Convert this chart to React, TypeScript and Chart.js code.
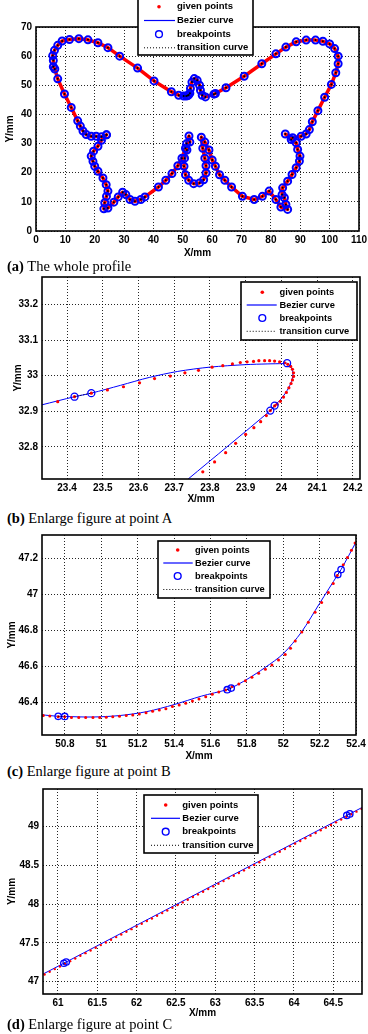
import React, { useEffect, useRef } from "react";
import { Chart, registerables } from "chart.js";
Chart.register(...registerables);

const FONT = "'Liberation Sans', Arial, Helvetica, sans-serif";
const SERIF = "'Liberation Serif', 'Times New Roman', serif";
const RED = "#ff0000";
const BLUE = "#0000ff";
const GRID = "rgba(0,0,0,0.85)";
const W = 368;

const legendLabels = ["given points", "Bezier curve", "breakpoints", "transition curve"];

// ---------- (a) whole profile ----------
const profileX = [24.0, 22.3, 20.5, 18.8, 17.1, 16.0, 15.1, 14.2, 12.0, 9.7,
  7.4, 6.4, 5.9, 5.9, 5.7, 6.3, 7.4, 8.9, 11.4, 14.6,
  17.7, 21.1, 24.5, 28.5, 34.6, 40.2, 46.1, 48.6, 50.3, 51.2,
  51.7, 52.0, 52.4, 52.6, 53.1, 53.9, 54.9, 55.7, 56.0, 56.6,
  57.7, 60.6, 61.1, 64.7, 70.9, 76.9, 81.7, 85.1, 88.6, 92.0,
  95.2, 97.7, 100.0, 101.7, 102.9, 102.9, 102.1, 100.6, 98.3, 96.0,
  94.1, 93.1, 92.0, 90.3, 87.4, 84.9, 86.9, 88.6, 89.1, 89.9,
  89.7, 88.6, 87.2, 85.7, 84.0, 83.8, 84.6, 85.1, 85.7, 83.4,
  81.7, 79.4, 77.1, 74.3, 70.3, 66.6, 64.3, 62.5, 61.1, 60.0,
  58.9, 57.5, 56.3, 56.8, 57.5, 57.9, 57.9, 57.1, 55.7, 53.7,
  52.0, 50.9, 50.4, 50.6, 51.4, 52.4, 52.1, 51.3, 50.9, 49.7,
  48.3, 46.3, 44.2, 41.7, 37.1, 35.7, 33.7, 32.0, 30.6, 29.5,
  28.0, 26.5, 24.5, 23.1, 23.4, 24.0, 24.5, 23.9, 22.8, 21.1,
  20.0, 19.4, 18.8, 19.6, 21.1, 22.3, 24.0];
const profileY = [33.0, 32.3, 32.5, 32.5, 33.1, 34.3, 36.0, 37.8, 42.4, 47.0,
  52.2, 55.6, 56.4, 58.5, 60.2, 62.0, 63.7, 65.2, 65.7, 66.0,
  65.6, 64.6, 62.9, 60.0, 55.9, 51.5, 47.8, 46.6, 46.3, 46.33,
  46.47, 46.7, 47.3, 48.9, 51.1, 52.3, 51.7, 50.0, 48.3, 46.6,
  46.0, 46.95, 47.2, 49.15, 53.1, 57.4, 60.8, 63.1, 64.9, 65.5,
  65.5, 65.1, 64.2, 62.6, 60.0, 57.4, 54.3, 50.3, 45.9, 41.3,
  37.5, 34.8, 33.3, 32.5, 32.0, 33.3, 31.4, 30.3, 28.0, 25.7,
  24.0, 21.7, 19.4, 17.1, 14.8, 12.5, 11.4, 9.1, 7.4, 8.2,
  10.8, 13.7, 11.9, 10.8, 11.9, 15.1, 17.4, 19.3, 22.2, 24.4,
  27.8, 30.5, 32.2, 28.4, 25.0, 22.4, 19.9, 17.6, 16.5, 16.25,
  17.4, 19.3, 22.2, 25.0, 27.8, 30.5, 32.6, 30.0, 28.4, 25.0,
  22.4, 19.7, 17.4, 15.1, 11.7, 10.8, 10.2, 10.8, 12.5, 13.3,
  11.7, 9.9, 7.9, 7.6, 9.7, 11.9, 13.7, 15.9, 18.2, 20.5,
  22.2, 23.9, 25.7, 27.4, 29.1, 31.1, 33.0];
const aXTicks = [0, 10, 20, 30, 40, 50, 60, 70, 80, 90, 100, 110];
const aYTicks = [0, 10, 20, 30, 40, 50, 60, 70];

// ---------- (b) point A ----------
const bGivenX = [23.374, 23.421, 23.468, 23.513, 23.558, 23.603, 23.645, 23.689, 23.730, 23.768,
  23.806, 23.836, 23.863, 23.885, 23.904, 23.922, 23.937, 23.953, 23.967, 23.981,
  23.995, 24.009, 24.018, 24.026, 24.031, 24.034, 24.034, 24.031, 24.027, 24.021,
  24.014, 24.006, 23.997, 23.988, 23.981, 23.969, 23.958, 23.942, 23.923, 23.900,
  23.872, 23.844, 23.813, 23.780];
const bGivenY = [32.927, 32.941, 32.951, 32.960, 32.969, 32.980, 32.992, 32.999, 33.008, 33.015,
  33.024, 33.028, 33.033, 33.037, 33.039, 33.040, 33.042, 33.042, 33.042, 33.041,
  33.039, 33.036, 33.032, 33.026, 33.018, 33.008, 32.998, 32.988, 32.978, 32.966,
  32.953, 32.940, 32.928, 32.920, 32.915, 32.902, 32.888, 32.871, 32.854, 32.835,
  32.810, 32.784, 32.758, 32.730];
const bCurveX = [23.329, 23.421, 23.468, 23.550, 23.630, 23.710, 23.800, 23.900, 23.960, 24.005,
  24.016, 24.028, 24.032, 24.026, 24.012, 23.995, 23.981, 23.969, 23.738];
const bCurveY = [32.918, 32.941, 32.951, 32.973, 32.995, 33.012, 33.024, 33.031, 33.033, 33.034,
  33.035, 33.022, 33.002, 32.978, 32.952, 32.930, 32.916, 32.902, 32.709];
const bBreakX = [23.421, 23.468, 24.016, 23.981, 23.969];
const bBreakY = [32.941, 32.951, 33.035, 32.916, 32.902];
const bTransX = [23.421, 23.468, null, 23.969, 23.981];
const bTransY = [32.941, 32.951, null, 32.902, 32.916];
const bXTicks = [23.4, 23.5, 23.6, 23.7, 23.8, 23.9, 24, 24.1, 24.2];
const bYTicks = [32.8, 32.9, 33, 33.1, 33.2];

// ---------- (c) point B ----------
const cGivenX = [50.681, 50.717, 50.763, 50.799, 50.836, 50.876, 50.914, 50.954, 50.991, 51.027,
  51.063, 51.100, 51.137, 51.173, 51.209, 51.246, 51.282, 51.319, 51.355, 51.391,
  51.428, 51.464, 51.501, 51.537, 51.574, 51.610, 51.646, 51.683, 51.719, 51.756,
  51.792, 51.828, 51.865, 51.902, 51.938, 51.974, 52.011, 52.040, 52.066, 52.102,
  52.138, 52.175, 52.211, 52.248, 52.275, 52.297, 52.330, 52.353, 52.375, 52.395];
const cGivenY = [46.326, 46.324, 46.320, 46.320, 46.315, 46.315, 46.315, 46.315, 46.315, 46.317,
  46.320, 46.322, 46.326, 46.329, 46.335, 46.342, 46.350, 46.357, 46.364, 46.376,
  46.385, 46.394, 46.407, 46.418, 46.431, 46.444, 46.457, 46.468, 46.487, 46.502,
  46.520, 46.539, 46.561, 46.583, 46.607, 46.635, 46.665, 46.700, 46.740, 46.790,
  46.845, 46.900, 46.955, 47.010, 47.060, 47.105, 47.165, 47.205, 47.245, 47.285];
const cCurveX = [50.674, 50.763, 50.799, 50.950, 51.100, 51.250, 51.400, 51.550, 51.692, 51.714,
  51.800, 51.900, 52.000, 52.100, 52.200, 52.300, 52.318, 52.400];
const cCurveY = [46.330, 46.322, 46.321, 46.318, 46.326, 46.348, 46.387, 46.434, 46.470, 46.479,
  46.527, 46.593, 46.670, 46.790, 46.950, 47.110, 47.138, 47.290];
const cBreakX = [50.763, 50.799, 51.692, 51.714, 52.300, 52.318];
const cBreakY = [46.322, 46.321, 46.470, 46.479, 47.110, 47.138];
const cTransX = [50.763, 50.799, null, 51.692, 51.714, null, 52.300, 52.318];
const cTransY = [46.322, 46.321, null, 46.470, 46.479, null, 47.110, 47.138];
const cXTicks = [50.8, 51, 51.2, 51.4, 51.6, 51.8, 52, 52.2, 52.4];
const cYTicks = [46.4, 46.6, 46.8, 47, 47.2];

// ---------- (d) point C ----------
const dGivenX = [60.830, 60.895, 60.960, 61.025, 61.090, 61.155, 61.220, 61.285, 61.350, 61.415,
  61.480, 61.545, 61.610, 61.675, 61.740, 61.805, 61.870, 61.935, 62.000, 62.065,
  62.130, 62.195, 62.260, 62.325, 62.390, 62.455, 62.520, 62.585, 62.650, 62.715,
  62.780, 62.845, 62.910, 62.975, 63.040, 63.105, 63.170, 63.235, 63.300, 63.365,
  63.430, 63.495, 63.560, 63.625, 63.690, 63.755, 63.820, 63.885, 63.950, 64.015,
  64.080, 64.145, 64.210, 64.275, 64.340, 64.405, 64.470, 64.535, 64.600, 64.665,
  64.730, 64.795, 64.860];
const dGivenY = [47.093, 47.127, 47.162, 47.196, 47.230, 47.265, 47.299, 47.334, 47.368, 47.403,
  47.437, 47.472, 47.506, 47.540, 47.575, 47.609, 47.644, 47.678, 47.713, 47.747,
  47.782, 47.816, 47.850, 47.885, 47.919, 47.954, 47.988, 48.023, 48.057, 48.092,
  48.126, 48.161, 48.195, 48.229, 48.264, 48.298, 48.333, 48.367, 48.402, 48.436,
  48.471, 48.505, 48.540, 48.574, 48.608, 48.643, 48.677, 48.712, 48.746, 48.781,
  48.815, 48.850, 48.884, 48.919, 48.953, 48.987, 49.022, 49.056, 49.091, 49.125,
  49.160, 49.194, 49.229];
const dCurveX = [60.810, 61.075, 61.105, 64.672, 64.710, 64.870];
const dCurveY = [47.098, 47.238, 47.254, 49.145, 49.165, 49.250];
const dBreakX = [61.075, 61.105, 64.672, 64.710];
const dBreakY = [47.238, 47.254, 49.145, 49.165];
const dTransX = [61.075, 61.105, null, 64.672, 64.710];
const dTransY = [47.238, 47.254, null, 49.145, 49.165];
const dXTicks = [61, 61.5, 62, 62.5, 63, 63.5, 64, 64.5];
const dYTicks = [47, 47.5, 48, 48.5, 49];

function pts(xs: (number | null)[], ys: (number | null)[]) {
  return xs.map((x, i) => ({ x: x === null ? NaN : x, y: ys[i] }));
}

function makeSets(given, curve, brk, trans, o) {
  return [
    {
      label: "transition curve", data: trans, order: 0, showLine: o.transLine,
      borderColor: "#000", borderWidth: 1, borderDash: [1, 2], pointRadius: o.transDot,
      pointBackgroundColor: "#000", pointBorderWidth: 0, spanGaps: false, tension: 0,
    },
    {
      label: "breakpoints", data: brk, order: 1, showLine: false,
      pointRadius: o.brkR, pointBorderWidth: o.brkW, pointBorderColor: BLUE,
      pointBackgroundColor: "rgba(0,0,0,0)",
    },
    {
      label: "given points", data: given, order: 2, showLine: o.givenLine > 0,
      borderColor: RED, borderWidth: o.givenLine, pointRadius: o.dotR,
      borderJoinStyle: "round", borderCapStyle: "round",
      pointBackgroundColor: RED, pointBorderWidth: 0, tension: 0,
    },
    {
      label: "Bezier curve", data: curve, order: 3, showLine: true,
      borderColor: BLUE, borderWidth: 1, pointRadius: 0, tension: o.tension,
      borderJoinStyle: "round",
    },
  ];
}

const panels = [
  {
    key: "a", top: 0, height: 259,
    area: { left: 36, top: 27, right: 359, bottom: 231 },
    xMin: 0, xMax: 110, yMin: 0, yMax: 70, xTicks: aXTicks, yTicks: aYTicks, yTitlePad: 4,
    datasets: makeSets(pts(profileX, profileY), pts(profileX, profileY), pts(profileX, profileY), pts(profileX, profileY),
      { transLine: false, transDot: 1, brkR: 3.5, brkW: 2, givenLine: 3.5, dotR: 0, tension: 0 }),
    legend: { box: [138, -6, 253, 55], rows: [6.7, 20.5, 34.2, 47.8], mark: 159, line: [144, 175], textX: 177, fs: 9.5 },
  },
  {
    key: "b", top: 270, height: 235,
    area: { left: 42, top: 7, right: 360, bottom: 209 },
    xMin: 23.33, xMax: 24.22, yMin: 32.71, yMax: 33.277, xTicks: bXTicks, yTicks: bYTicks, yTitlePad: 12,
    datasets: makeSets(pts(bGivenX, bGivenY), pts(bCurveX, bCurveY), pts(bBreakX, bBreakY), pts(bTransX, bTransY),
      { transLine: true, transDot: 0, brkR: 3.5, brkW: 1.3, givenLine: 0, dotR: 1.6, tension: 0.3 }),
    legend: { box: [241, 12, 357, 70], rows: [22.3, 35, 48, 61.3], mark: 262.3, line: [246.7, 276.7], textX: 279.5, fs: 9.3 },
  },
  {
    key: "c", top: 528, height: 234,
    area: { left: 42, top: 7, right: 356, bottom: 207 },
    xMin: 50.674, xMax: 52.4, yMin: 46.218, yMax: 47.33, xTicks: cXTicks, yTicks: cYTicks, yTitlePad: 6,
    datasets: makeSets(pts(cGivenX, cGivenY), pts(cCurveX, cCurveY), pts(cBreakX, cBreakY), pts(cTransX, cTransY),
      { transLine: true, transDot: 0, brkR: 3.2, brkW: 1.3, givenLine: 0, dotR: 1.5, tension: 0.3 }),
    legend: { box: [158, 13, 270, 70], rows: [22, 35, 48, 61.5], mark: 177.7, line: [163.3, 192.7], textX: 195, fs: 9.3 },
  },
  {
    key: "d", top: 782, height: 237,
    area: { left: 43, top: 7, right: 362, bottom: 212 },
    xMin: 60.81, xMax: 64.865, yMin: 46.841, yMax: 49.486, xTicks: dXTicks, yTicks: dYTicks, yTitlePad: 6,
    datasets: makeSets(pts(dGivenX, dGivenY), pts(dCurveX, dCurveY), pts(dBreakX, dBreakY), pts(dTransX, dTransY),
      { transLine: true, transDot: 0, brkR: 3.2, brkW: 1.3, givenLine: 0, dotR: 1.2, tension: 0 }),
    legend: { box: [144, 13, 258, 71], rows: [23, 36.3, 49.7, 63.3], mark: 165.7, line: [151, 180], textX: 182.3, fs: 9.5 },
  },
];

const captions = [
  { tag: "(a)", text: " The whole profile", top: 257 },
  { tag: "(b)", text: " Enlarge figure at point A", top: 508.5 },
  { tag: "(c)", text: " Enlarge figure at point B", top: 761.5 },
  { tag: "(d)", text: " Enlarge figure at point C", top: 1015 },
];

function framePlugin(spec) {
  return {
    id: "frame_" + spec.key,
    afterDraw(chart) {
      const { ctx, chartArea: a } = chart;
      ctx.save();
      ctx.strokeStyle = "#000";
      ctx.lineWidth = 1.6;
      ctx.strokeRect(a.left, a.top, a.right - a.left, a.bottom - a.top);
      const L = spec.legend;
      const [x1, y1, x2, y2] = L.box;
      ctx.fillStyle = "#fff";
      ctx.fillRect(x1, y1, x2 - x1, y2 - y1);
      ctx.lineWidth = 1.6;
      ctx.strokeRect(x1, y1, x2 - x1, y2 - y1);
      // given points
      ctx.fillStyle = RED;
      ctx.beginPath();
      ctx.arc(L.mark, L.rows[0], 1.8, 0, Math.PI * 2);
      ctx.fill();
      // Bezier
      ctx.strokeStyle = BLUE;
      ctx.lineWidth = 1.2;
      ctx.beginPath();
      ctx.moveTo(L.line[0], L.rows[1]);
      ctx.lineTo(L.line[1], L.rows[1]);
      ctx.stroke();
      // breakpoints
      ctx.lineWidth = 1.4;
      ctx.beginPath();
      ctx.arc(L.mark, L.rows[2], 3.4, 0, Math.PI * 2);
      ctx.stroke();
      // transition
      ctx.strokeStyle = "#000";
      ctx.lineWidth = 1;
      ctx.setLineDash([1, 2]);
      ctx.beginPath();
      ctx.moveTo(L.line[0], L.rows[3]);
      ctx.lineTo(L.line[1], L.rows[3]);
      ctx.stroke();
      ctx.setLineDash([]);
      ctx.fillStyle = "#000";
      ctx.font = `bold ${L.fs}px ${FONT}`;
      ctx.textBaseline = "middle";
      ctx.textAlign = "left";
      legendLabels.forEach((t, i) => ctx.fillText(t, L.textX, L.rows[i]));
      ctx.restore();
    },
  };
}

function Panel({ spec }) {
  const ref = useRef<HTMLCanvasElement>(null);
  useEffect(() => {
    const canvas = ref.current!;
    const tickFont = { family: FONT, size: 10, weight: "bold" as const };
    const titleFont = { family: FONT, size: 10, weight: "bold" as const };
    const chart = new Chart(canvas, {
      type: "scatter",
      data: { datasets: spec.datasets },
      options: {
        animation: false,
        responsive: false,
        maintainAspectRatio: false,
        devicePixelRatio: 1,
        events: [],
        layout: { padding: { left: 0, top: spec.area.top, right: W - spec.area.right, bottom: 0 } },
        plugins: { legend: { display: false }, tooltip: { enabled: false } },
        scales: {
          x: {
            type: "linear", position: "bottom", min: spec.xMin, max: spec.xMax,
            afterBuildTicks: (s) => { s.ticks = spec.xTicks.map((v) => ({ value: v })); },
            afterFit: (s) => {
              s.height = spec.height - spec.area.bottom;
              s.paddingLeft = 0; s.paddingRight = 0;
            },
            ticks: { callback: (v) => String(v), font: tickFont, color: "#000", padding: 3, autoSkip: false, maxRotation: 0, minRotation: 0 },
            grid: { color: GRID, lineWidth: 1, drawTicks: false },
            border: { display: false, dash: [1, 2] },
            title: { display: true, text: "X/mm", font: titleFont, color: "#000", padding: 0 },
          },
          y: {
            type: "linear", position: "left", min: spec.yMin, max: spec.yMax,
            afterBuildTicks: (s) => { s.ticks = spec.yTicks.map((v) => ({ value: v })); },
            afterFit: (s) => {
              s.width = spec.area.left;
              s.paddingTop = 0; s.paddingBottom = 0;
            },
            ticks: { callback: (v) => String(v), font: tickFont, color: "#000", padding: 4, autoSkip: false },
            grid: { color: GRID, lineWidth: 1, drawTicks: false },
            border: { display: false, dash: [1, 2] },
            title: { display: true, text: "Y/mm", font: titleFont, color: "#000", padding: { top: spec.yTitlePad, bottom: 0 } },
          },
        },
      },
      plugins: [framePlugin(spec)],
    });
    return () => chart.destroy();
  }, []);
  return (
    <canvas
      ref={ref}
      width={W}
      height={spec.height}
      style={{ position: "absolute", left: 0, top: spec.top, width: W, height: spec.height }}
    />
  );
}

export default function App() {
  return (
    <div style={{ position: "absolute", left: 0, top: 0, width: W, height: 1034, background: "#fff", overflow: "hidden" }}>
      {panels.map((p) => (
        <Panel key={p.key} spec={p} />
      ))}
      {captions.map((c) => (
        <div
          key={c.tag}
          style={{ position: "absolute", left: 7, top: c.top, fontFamily: SERIF, fontSize: 14.5, lineHeight: "18px", color: "#000", whiteSpace: "nowrap" }}
        >
          <b>{c.tag}</b>
          {c.text}
        </div>
      ))}
    </div>
  );
}
